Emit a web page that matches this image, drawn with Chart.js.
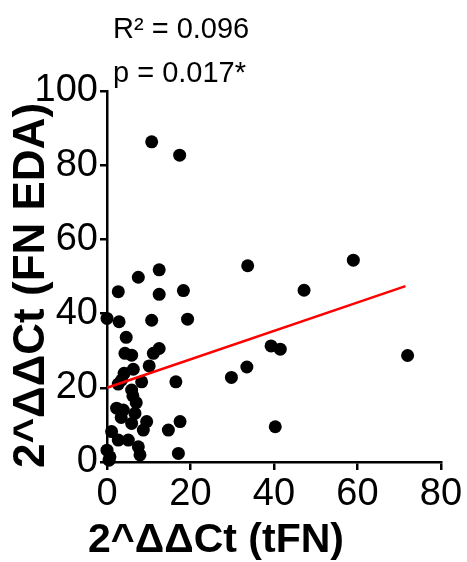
<!DOCTYPE html>
<html>
<head>
<meta charset="utf-8">
<script src="https://cdn.jsdelivr.net/npm/chart.js@4"></script>
<style>
html,body{margin:0;padding:0;background:#fff;}
#wrap{width:467px;height:562px;}
</style>
</head>
<body>
<div id="wrap"><canvas id="c" width="467" height="562"></canvas></div>
<script>
// tFN values (x)
const xValues = [10.7,17.4,33.7,59.0,47.2,39.3,41.5,33.5,29.8,72.0,40.3,12.5,7.5,2.7,12.5,18.3,0.0,2.9,10.7,19.3,4.6,12.5,11.1,4.3,5.9,6.3,10.1,4.1,3.5,8.3,5.9,16.5,6.2,2.3,3.9,6.7,9.5,5.9,8.7,17.5,14.7,1.1,2.7,5.1,7.5,7.9,0.0,0.7,17.1,2.7,3.4,0.5,7.0];
// FN EDA values (y)
const yValues = [86.3,82.7,52.9,54.4,46.3,31.3,30.4,25.6,22.8,28.7,9.5,51.8,49.8,45.9,45.2,46.2,38.7,37.8,38.2,38.5,33.6,30.6,29.3,29.3,28.8,25.0,25.9,23.9,22.1,21.6,19.4,21.6,17.8,14.5,14.0,13.1,10.9,10.4,8.6,10.9,8.6,8.2,5.9,5.9,4.1,1.9,3.2,1.4,2.3,21.0,12.0,0.5,16.0];
// regression line end points
const trendX = [0, 71.5];
const trendY = [20.0, 47.4];
const xTicks = [0,20,40,60,80];
const yTicks = [0,20,40,60,80,100];
const annotations = ['R\u00B2 = 0.096','p = 0.017*'];
const xTitle = '2^\u0394\u0394Ct (tFN)';
const yTitle = '2^\u0394\u0394Ct (FN EDA)';

const points = xValues.map((x,i)=>({x:x,y:yValues[i]}));
const trend = trendX.map((x,i)=>({x:x,y:trendY[i]}));

const FONT = '"Liberation Sans", Arial, sans-serif';

const texts = {
  id:'texts',
  afterDraw(chart){
    const ctx = chart.ctx, a = chart.chartArea;
    ctx.save();
    ctx.fillStyle='#000';
    ctx.font = '29px ' + FONT;
    ctx.textBaseline='alphabetic';
    ctx.textAlign='left';
    ctx.fillText(annotations[0], a.left+6, a.top-53);
    ctx.fillText(annotations[1], a.left+6, a.top-9);
    // x axis title
    ctx.font = 'bold 41px ' + FONT;
    ctx.textAlign='center';
    ctx.fillText(xTitle, a.left+109, a.bottom+90);
    // y axis title
    ctx.font = 'bold 44px ' + FONT;
    ctx.translate(a.left-63, (a.top+a.bottom)/2+9);
    ctx.rotate(-Math.PI/2);
    ctx.fillText(yTitle, 0, 0);
    ctx.restore();
  }
};

new Chart(document.getElementById('c'), {
  type:'scatter',
  data:{datasets:[
    {type:'line', data:trend, borderColor:'#ff0000', borderWidth:2.5, pointRadius:0, fill:false, clip:false, order:0},
    {data:points, backgroundColor:'#000', borderWidth:0, pointRadius:6.5, pointHoverRadius:6.5, clip:false, order:1}
  ]},
  options:{
    responsive:false, animation:false, devicePixelRatio:1,
    layout:{padding:{top:91,right:26,left:0,bottom:0}},
    plugins:{legend:{display:false}, tooltip:{enabled:false}},
    scales:{
      x:{type:'linear', min:0, max:80,
        afterBuildTicks(s){ s.ticks = xTicks.map(v=>({value:v})); },
        afterFit(s){ s.height = 100; },
        grid:{drawOnChartArea:false, drawTicks:true, tickLength:8, color:'#000', lineWidth:2.5},
        border:{color:'#000', width:2.5},
        ticks:{color:'#000', font:{family:FONT, size:38}, padding:2, maxRotation:0},
        title:{display:false}
      },
      y:{type:'linear', min:0, max:100,
        afterBuildTicks(s){ s.ticks = yTicks.map(v=>({value:v})); },
        afterFit(s){ s.width = 107; },
        grid:{drawOnChartArea:false, drawTicks:true, tickLength:7, color:'#000', lineWidth:2.5},
        border:{color:'#000', width:2.5},
        ticks:{color:'#000', font:{family:FONT, size:38}, padding:2},
        title:{display:false}
      }
    }
  },
  plugins:[texts]
});
</script>
</body>
</html>
